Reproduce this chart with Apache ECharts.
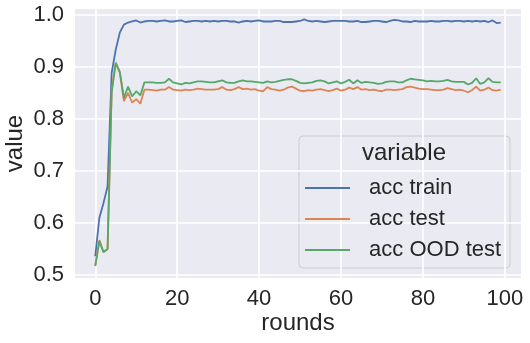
<!DOCTYPE html>
<html lang="en">
<head>
    <meta charset="UTF-8">
    <script src="https://cdn.jsdelivr.net/npm/echarts@6/dist/echarts.min.js"></script>
    <title>acc</title>
    <style>
        html, body { margin: 0; padding: 0; background: #fff; }
        #main { width: 530px; height: 343px; }
    </style>
</head>
<body>
    <div id="main"></div>
    <script>
        var seriesNames = [' acc train', ' acc test', ' acc OOD test'];
        var xTicks = [0, 20, 40, 60, 80, 100];
        var yTicks = [0.5, 0.6, 0.7, 0.8, 0.9, 1.0];

        var accTrain = [
            0.536, 0.610, 0.638, 0.670, 0.888, 0.933, 0.966, 0.981, 0.985, 0.987,
            0.989, 0.985, 0.987, 0.988, 0.988, 0.987, 0.988, 0.989, 0.987, 0.987,
            0.988, 0.989, 0.986, 0.987, 0.988, 0.988, 0.987, 0.988, 0.987, 0.988,
            0.987, 0.988, 0.988, 0.987, 0.987, 0.985, 0.987, 0.988, 0.987, 0.988,
            0.989, 0.987, 0.987, 0.987, 0.988, 0.988, 0.986, 0.986, 0.986, 0.987,
            0.988, 0.991, 0.988, 0.987, 0.988, 0.987, 0.986, 0.987, 0.988, 0.988,
            0.988, 0.988, 0.987, 0.987, 0.988, 0.986, 0.986, 0.987, 0.988, 0.988,
            0.987, 0.986, 0.988, 0.990, 0.989, 0.987, 0.987, 0.986, 0.988, 0.987,
            0.987, 0.987, 0.988, 0.987, 0.987, 0.988, 0.988, 0.987, 0.988, 0.988,
            0.987, 0.988, 0.987, 0.988, 0.987, 0.988, 0.986, 0.989, 0.984, 0.985
        ];
        var accTest = [
            0.517, 0.567, 0.544, 0.550, 0.856, 0.907, 0.888, 0.834, 0.850, 0.831,
            0.838, 0.829, 0.856, 0.856, 0.855, 0.854, 0.856, 0.856, 0.861, 0.856,
            0.855, 0.854, 0.856, 0.855, 0.856, 0.858, 0.857, 0.856, 0.856, 0.856,
            0.857, 0.861, 0.856, 0.855, 0.857, 0.861, 0.857, 0.858, 0.856, 0.857,
            0.854, 0.853, 0.861, 0.857, 0.856, 0.854, 0.856, 0.860, 0.862, 0.858,
            0.854, 0.853, 0.855, 0.854, 0.856, 0.857, 0.855, 0.853, 0.855, 0.858,
            0.854, 0.856, 0.860, 0.857, 0.861, 0.856, 0.857, 0.855, 0.856, 0.854,
            0.853, 0.856, 0.856, 0.855, 0.856, 0.857, 0.861, 0.862, 0.860, 0.858,
            0.857, 0.857, 0.856, 0.855, 0.855, 0.856, 0.859, 0.857, 0.855, 0.856,
            0.854, 0.851, 0.855, 0.862, 0.854, 0.856, 0.860, 0.855, 0.854, 0.856
        ];
        var accOodTest = [
            0.518, 0.565, 0.544, 0.550, 0.850, 0.908, 0.890, 0.840, 0.862, 0.843,
            0.853, 0.845, 0.870, 0.870, 0.870, 0.869, 0.869, 0.870, 0.877, 0.870,
            0.868, 0.866, 0.869, 0.868, 0.870, 0.872, 0.872, 0.871, 0.870, 0.870,
            0.872, 0.874, 0.870, 0.869, 0.869, 0.872, 0.874, 0.872, 0.872, 0.871,
            0.870, 0.869, 0.872, 0.870, 0.871, 0.873, 0.875, 0.876, 0.876, 0.873,
            0.869, 0.868, 0.869, 0.870, 0.873, 0.874, 0.872, 0.868, 0.870, 0.872,
            0.868, 0.871, 0.875, 0.868, 0.874, 0.869, 0.871, 0.870, 0.869, 0.867,
            0.868, 0.871, 0.872, 0.872, 0.870, 0.870, 0.874, 0.877, 0.876, 0.875,
            0.874, 0.872, 0.873, 0.872, 0.872, 0.873, 0.875, 0.872, 0.871, 0.871,
            0.871, 0.866, 0.869, 0.878, 0.867, 0.870, 0.878, 0.871, 0.870, 0.870
        ];

        var colors = ['#4C72B0', '#DD8452', '#55A868'];
        var font = "'Liberation Sans', Arial, sans-serif";

        // round number = position in the array
        function pairs(arr) {
            return arr.map(function (v, i) { return [i, v]; });
        }

        var chart = echarts.init(document.getElementById('main'));
        var option = {
            animation: false,
            textStyle: { fontFamily: font },
            grid: {
                left: 75, right: 9, top: 9, bottom: 65,
                outerBoundsMode: 'none',
                containLabel: false,
                show: true,
                backgroundColor: '#EAEAF2',
                borderWidth: 0
            },
            xAxis: {
                type: 'value',
                min: -4.95,
                max: 103.95,
                name: 'rounds',
                nameLocation: 'middle',
                nameGap: 33,
                nameMoveOverlap: false,
                nameTextStyle: { fontSize: 24, color: '#262626', fontFamily: font },
                axisLine: { show: false },
                axisTick: { show: false, customValues: xTicks },
                axisLabel: {
                    customValues: xTicks,
                    fontSize: 22, color: '#262626', margin: 10, fontFamily: font
                },
                splitLine: { show: true, lineStyle: { color: '#fff', width: 1.6 } }
            },
            yAxis: {
                type: 'value',
                min: 0.4942,
                max: 1.011,
                name: 'value',
                nameLocation: 'middle',
                nameGap: 48,
                nameMoveOverlap: false,
                nameTextStyle: { fontSize: 24, color: '#262626', fontFamily: font },
                axisLine: { show: false },
                axisTick: { show: false, customValues: yTicks },
                axisLabel: {
                    customValues: yTicks,
                    fontSize: 22, color: '#262626', margin: 11, fontFamily: font,
                    formatter: function (v) { return v.toFixed(1); }
                },
                splitLine: { show: true, lineStyle: { color: '#fff', width: 1.6 } }
            },
            legend: {
                orient: 'vertical',
                left: 300,
                top: 171,
                itemWidth: 45,
                itemHeight: 2,
                itemGap: 7,
                icon: 'rect',
                textStyle: { fontSize: 22, color: '#262626', lineHeight: 24, fontFamily: font, padding: [0, 0, 0, 8] },
                data: seriesNames
            },
            graphic: [
                {
                    type: 'rect',
                    x: 299, y: 136,
                    shape: { width: 211, height: 132, r: 4 },
                    style: { fill: 'rgba(234,234,242,0.8)', stroke: '#cccccc', lineWidth: 1 },
                    z: 0
                },
                {
                    type: 'text',
                    x: 404, y: 141,
                    style: {
                        text: 'variable', textAlign: 'center',
                        font: "24px 'Liberation Sans', Arial, sans-serif", fill: '#262626'
                    },
                    z: 10
                }
            ],
            series: [
                {
                    name: seriesNames[0], type: 'line', showSymbol: false,
                    color: colors[0], lineStyle: { width: 1.8 }, data: pairs(accTrain)
                },
                {
                    name: seriesNames[1], type: 'line', showSymbol: false,
                    color: colors[1], lineStyle: { width: 1.8 }, data: pairs(accTest)
                },
                {
                    name: seriesNames[2], type: 'line', showSymbol: false,
                    color: colors[2], lineStyle: { width: 1.8 }, data: pairs(accOodTest)
                }
            ]
        };
        chart.setOption(option);
    </script>
</body>
</html>
